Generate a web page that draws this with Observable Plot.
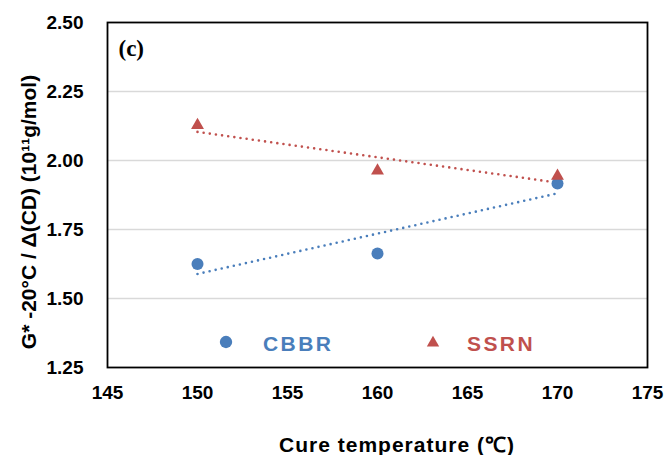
<!DOCTYPE html>
<html>
<head>
<meta charset="utf-8">
<script src="https://cdn.jsdelivr.net/npm/d3@7"></script>
<script src="https://cdn.jsdelivr.net/npm/@observablehq/plot@0.6"></script>
<style>
  html, body { margin: 0; padding: 0; background: #fff; }
  #wrap { position: relative; width: 668px; height: 455px; }
  #wrap > svg.overlay { position: absolute; left: 0; top: 0; overflow: visible; pointer-events: none; }
</style>
</head>
<body>
<div id="wrap"></div>
<script>
// ---- data ----
const cureTemps = [150, 160, 170];
const cbbrValues = [1.625, 1.663, 1.917];
const ssrnValues = [2.128, 1.963, 1.944];
const xTicks = [145, 150, 155, 160, 165, 170, 175];
const yTicks = [1.25, 1.50, 1.75, 2.00, 2.25, 2.50];
const seriesNames = ["CBBR", "SSRN"];
const panelLabel = "(c)";
const xTitle = "Cure temperature (\u2103)";
const yTitle = "G* -20\u00B0C / \u0394(CD) (10\u00B9\u00B9g/mol)";

const blue = "#4a7ebb";
const red = "#c0504d";
const sans = "'Liberation Sans', Arial, sans-serif";

const cbbr = cureTemps.map((t, i) => ({x: t, y: cbbrValues[i]}));
const ssrn = cureTemps.map((t, i) => ({x: t, y: ssrnValues[i]}));

const dotted = {strokeWidth: 2.6, strokeDasharray: "0,6.2", strokeLinecap: "round", ci: 0};

const chart = Plot.plot({
  width: 668,
  height: 455,
  marginLeft: 107,
  marginRight: 21,
  marginTop: 22,
  marginBottom: 88,
  style: {fontFamily: sans, fontSize: "19px", fontWeight: "bold", color: "#000", background: "#fff"},
  x: {domain: [145, 175]},
  y: {domain: [1.25, 2.5]},
  marks: [
    Plot.gridY(yTicks.slice(1, -1), {stroke: "#d9d9d9", strokeOpacity: 1, strokeWidth: 1.5}),
    Plot.axisX(xTicks, {tickSize: 0, tickPadding: 18, label: null, fontWeight: "bold"}),
    Plot.axisY(yTicks, {tickSize: 0, tickPadding: 24, tickFormat: d3.format(".2f"), label: null, fontWeight: "bold"}),
    Plot.linearRegressionY(cbbr, {x: "x", y: "y", stroke: blue, ...dotted}),
    Plot.linearRegressionY(ssrn, {x: "x", y: "y", stroke: red, ...dotted}),
    Plot.dot(cbbr, {x: "x", y: "y", r: 6, fill: blue, symbol: "circle"}),
    Plot.dot(ssrn, {x: "x", y: "y", r: 4.8, fill: red, symbol: "triangle"}),
    Plot.frame({stroke: "#000", strokeWidth: 1.8}),
    Plot.text([panelLabel], {text: d => d, frameAnchor: "top-left", dx: 11, dy: 17, textAnchor: "start", fontFamily: "'Liberation Serif', 'Times New Roman', serif", fontSize: 23, fontWeight: "bold"})
  ]
});

const wrap = document.getElementById("wrap");
wrap.appendChild(chart);

// overlay: axis titles and legend
const ov = d3.select(wrap).append("svg").attr("class", "overlay").attr("width", 668).attr("height", 455)
  .style("font-family", sans).style("font-weight", "bold");

ov.append("text").attr("x", 397).attr("y", 452).attr("text-anchor", "middle")
  .attr("font-size", 21).style("letter-spacing", "1px").text(xTitle);

ov.append("text").attr("transform", "translate(36,212) rotate(-90)").attr("text-anchor", "middle")
  .attr("font-size", 21).text(yTitle);

function legendItem(name, color, symbol, size, sx, sy, tx) {
  ov.append("path").attr("d", d3.symbol(symbol, size)()).attr("transform", `translate(${sx},${sy})`).attr("fill", color);
  ov.append("text").attr("x", tx).attr("y", 350.5).attr("font-size", 21).style("letter-spacing", "2.4px")
    .attr("fill", color).text(name);
}
legendItem(seriesNames[0], blue, d3.symbolCircle, 120, 226, 342, 263);
legendItem(seriesNames[1], red, d3.symbolTriangle, 66, 433, 343, 467);
</script>
</body>
</html>
